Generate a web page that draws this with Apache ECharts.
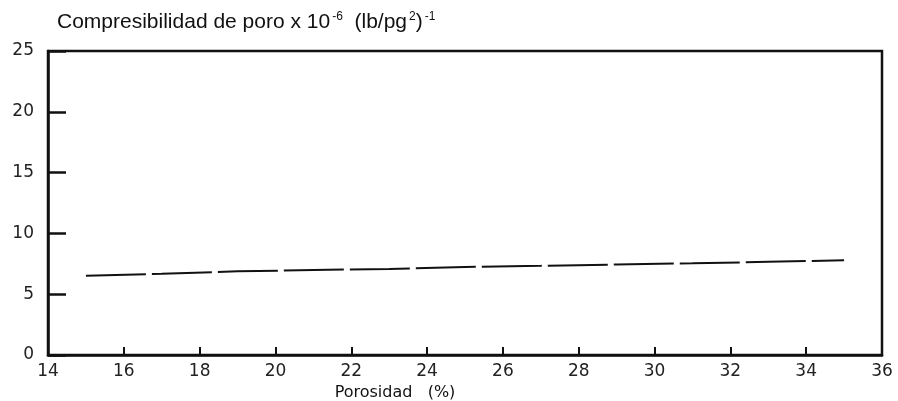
<!DOCTYPE html>
<html>
<head>
<meta charset="utf-8">
<script src="https://cdn.jsdelivr.net/npm/echarts@6/dist/echarts.min.js"></script>
<style>
  html, body { margin: 0; padding: 0; background: #fff; }
  #chart { width: 898px; height: 401px; }
</style>
</head>
<body>
<div id="chart"></div>
<script>
// porosity (%) and pore compressibility x 10^-6 (lb/pg2)^-1
var porosidad = [15, 17, 19, 21, 23, 25, 27, 29, 31, 33, 35];
var compresibilidad = [6.52, 6.68, 6.88, 6.99, 7.08, 7.24, 7.33, 7.44, 7.54, 7.66, 7.8];

var xTicks = [14, 16, 18, 20, 22, 24, 26, 28, 30, 32, 34, 36];
var yTicks = [0, 5, 10, 15, 20, 25];

var points = porosidad.map(function (p, i) { return [p, compresibilidad[i]]; });

var myChart = echarts.init(document.getElementById('chart'));

var option = {
  backgroundColor: '#fff',
  animation: false,
  textStyle: { fontFamily: 'Liberation Sans' },
  title: {
    left: 52,
    top: 6,
    text: '{a|Compresibilidad de poro x 10}{s|-6}{a|  (lb/pg}{s|2}{a|)}{s|-1}',
    textStyle: {
      fontWeight: 'normal',
      rich: {
        a: { fontSize: 21, color: '#111', fontFamily: 'Liberation Sans', verticalAlign: 'bottom' },
        s: { fontSize: 12, color: '#111', fontFamily: 'Liberation Sans', verticalAlign: 'bottom', padding: [0, 0, 10, 2] }
      }
    }
  },
  grid: {
    left: 48, right: 16, top: 51, bottom: 46,
    outerBoundsMode: 'none',
    containLabel: false,
    show: true,
    borderColor: '#111',
    borderWidth: 2.5
  },
  xAxis: {
    type: 'value',
    min: xTicks[0],
    max: xTicks[xTicks.length - 1],
    interval: 2,
    name: 'Porosidad   (%)',
    nameLocation: 'middle',
    nameGap: 30,
    nameTextStyle: { fontSize: 16, color: '#111', fontFamily: 'DejaVu Sans', padding: [0, 140, 0, 0] },
    axisLine: { lineStyle: { color: '#111', width: 2.5 } },
    axisTick: { inside: true, length: 8, lineStyle: { color: '#111', width: 2 } },
    axisLabel: { fontSize: 17, color: '#222', fontFamily: 'DejaVu Sans', margin: 8 },
    splitLine: { show: false }
  },
  yAxis: {
    type: 'value',
    min: yTicks[0],
    max: yTicks[yTicks.length - 1],
    interval: 5,
    axisLine: { show: true, lineStyle: { color: '#111', width: 2.5 } },
    axisTick: { inside: true, length: 18, lineStyle: { color: '#111', width: 2.5 } },
    axisLabel: { fontSize: 17, color: '#222', fontFamily: 'DejaVu Sans', margin: 14 },
    splitLine: { show: false }
  },
  series: [{
    type: 'line',
    data: points,
    showSymbol: false,
    lineStyle: { color: '#111', width: 2, type: [60, 6] }
  }]
};

myChart.setOption(option);
</script>
</body>
</html>
